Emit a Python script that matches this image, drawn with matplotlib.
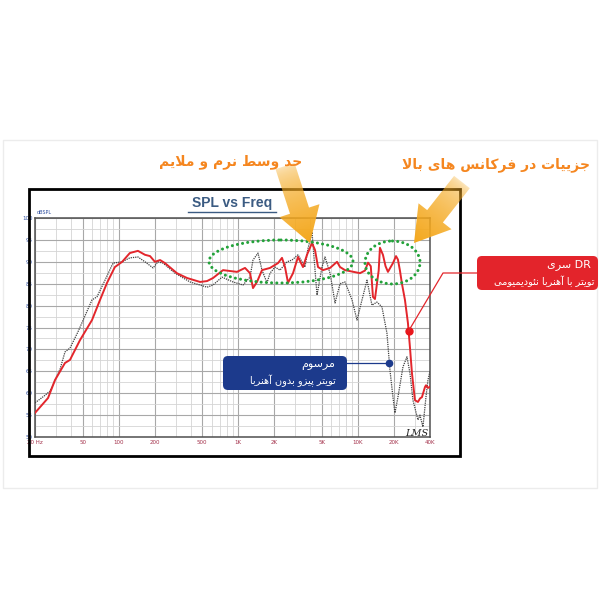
import numpy as np
import matplotlib
matplotlib.use('Agg')
import matplotlib.pyplot as plt
from matplotlib.patches import Ellipse, FancyBboxPatch, Polygon, Rectangle
from matplotlib.ticker import FixedLocator, LogLocator, MultipleLocator, NullFormatter

# --- data ---
freq_red = [20, 25.7, 29.4, 35.6, 39.2, 47.5, 59.9, 69.9, 80, 93, 107, 124, 145, 166, 183,
            201, 222, 244, 307, 373, 479, 548, 615, 745, 975, 1138, 1253, 1327, 1433, 1578,
            1841, 2147, 2318, 2457, 2603, 2866, 3155, 3473, 3751, 4130, 4376, 4636, 5103,
            5842, 6686, 7084, 7796, 10400, 11450, 12130, 12800, 13342, 13866, 14410, 14900,
            15266, 16174, 17000, 17808, 18500, 19608, 20800, 21586, 22434, 23314, 24700,
            26168, 27196, 28260, 29942, 31720, 33000, 34260, 36300, 37000, 38460, 40000]
spl_red = [55.5, 58.9, 63, 66.9, 67.6, 72.1, 76.7, 81.3, 85.2, 88.8, 90, 92, 92.5, 91.6, 91.3,
           90, 90.4, 89.7, 87.4, 86.3, 85.4, 85.6, 86.3, 88.1, 87.7, 88.6, 87.4, 84, 85.4, 88.1,
           88.6, 89.7, 90.9, 88.8, 85.2, 87.4, 91.1, 88.8, 91.6, 94.3, 92.7, 88.8, 88.1,
           88.6, 90, 88.8, 88.1, 87.4, 88.0, 89.8, 89.0, 82, 81.5, 85.0, 88,
           93.2, 91.6, 89, 87.7, 88.5, 89.7, 91.3, 90.5, 88, 85, 81.3,
           76, 70.5, 64.6, 58.4, 58, 58.8, 59.1, 61.4, 61.8, 61.2, 61.5]

freq_gray = [20, 24.2, 26.7, 29.4, 32.4, 35.6, 39.2, 45.7, 59.9, 65.9, 76.9, 89.7, 106.7, 124,
             145, 166, 194, 213, 235, 296, 395, 548, 615, 731, 903, 1095, 1253, 1327, 1461,
             1578, 1737, 1841, 2027, 2231, 2553, 2811, 3155, 3609, 3823, 4130, 4548, 5006,
             5303, 5842, 6434, 7084, 7796, 8917, 9818, 10808, 11898, 13088, 14410, 15866,
             17468, 18506, 19608, 20376, 21586, 23766, 25670, 27196, 28812, 31720, 32960,
             34920, 37000, 38460, 40000]
spl_gray = [57.8, 59.5, 60.5, 63, 65.5, 69.4, 70.3, 74, 81.3, 82, 85.8, 89.7, 90, 90.9,
            91.1, 90, 88.6, 90, 89.7, 87.4, 85.4, 84.2, 84.7, 86.5, 85.4, 84.7, 86.5, 90.4, 92,
            88.1, 85.2, 87.4, 88.8, 88.1, 90, 90.4, 91.6, 88.8, 93, 96.8, 82.4, 88.8,
            91.1, 87.4, 80.6, 85, 85.4, 81.3, 76.7, 81.3, 85.8, 80.1, 80.8, 79.7,
            73.7, 65.3, 59.1, 55.5, 59.1, 66, 68.3, 64.6, 58.4, 53.9, 55,
            52.3, 59.1, 63, 65]

x_ticks = [20, 50, 100, 200, 500, 1000, 2000, 5000, 10000, 20000, 40000]
x_labels = ['20 Hz', '50', '100', '200', '500', '1K', '2K', '5K', '10K', '20K', '40K']
y_ticks = list(range(50, 101, 5))
dot_red_f = 26500
dot_gray_f = 18300

# --- Persian shaping (matplotlib has no RTL shaping) ---
FORMS = {
    'ا': ('\uFE8D', '\uFE8E', None, None), 'آ': ('\uFE81', '\uFE82', None, None),
    'ب': ('\uFE8F', '\uFE90', '\uFE91', '\uFE92'), 'پ': ('\uFB56', '\uFB57', '\uFB58', '\uFB59'),
    'ت': ('\uFE95', '\uFE96', '\uFE97', '\uFE98'), 'ج': ('\uFE9D', '\uFE9E', '\uFE9F', '\uFEA0'),
    'ح': ('\uFEA1', '\uFEA2', '\uFEA3', '\uFEA4'), 'د': ('\uFEA9', '\uFEAA', None, None),
    'ر': ('\uFEAD', '\uFEAE', None, None), 'ز': ('\uFEAF', '\uFEB0', None, None),
    'س': ('\uFEB1', '\uFEB2', '\uFEB3', '\uFEB4'), 'ط': ('\uFEC1', '\uFEC2', '\uFEC3', '\uFEC4'),
    'ف': ('\uFED1', '\uFED2', '\uFED3', '\uFED4'), 'ک': ('\uFB8E', '\uFB8F', '\uFB90', '\uFB91'),
    'ل': ('\uFEDD', '\uFEDE', '\uFEDF', '\uFEE0'), 'م': ('\uFEE1', '\uFEE2', '\uFEE3', '\uFEE4'),
    'ن': ('\uFEE5', '\uFEE6', '\uFEE7', '\uFEE8'), 'ه': ('\uFEE9', '\uFEEA', '\uFEEB', '\uFEEC'),
    'و': ('\uFEED', '\uFEEE', None, None), 'ئ': ('\uFE89', '\uFE8A', '\uFE8B', '\uFE8C'),
    'ی': ('\uFBFC', '\uFBFD', '\uFBFE', '\uFBFF'),
}


def fa(text):
    words = []
    for word in text.split(' '):
        res = []
        i = 0
        while i < len(word):
            c = word[i]
            prev = i > 0 and word[i - 1] in FORMS and FORMS[word[i - 1]][2] is not None
            if c == 'ل' and i + 1 < len(word) and word[i + 1] == 'ا':
                res.append('\uFEFC' if prev else '\uFEFB')
                i += 2
                continue
            f = FORMS[c]
            nxt = f[2] is not None and i + 1 < len(word) and word[i + 1] in FORMS
            if prev and nxt:
                g = f[3]
            elif prev:
                g = f[1]
            elif nxt:
                g = f[2]
            else:
                g = f[0]
            res.append(g)
            i += 1
        words.append(''.join(res))
    return ' '.join(words)[::-1]


fig = plt.figure(figsize=(6, 6), dpi=100)
fig.patch.set_facecolor('white')

# main chart
ax = fig.add_axes([35 / 600, 1 - 437 / 600, 395 / 600, 219 / 600])
ax.set_xscale('log')
ax.set_xlim(20, 40000)
ax.set_ylim(50, 100)
ax.xaxis.set_major_locator(FixedLocator(x_ticks))
ax.xaxis.set_minor_locator(LogLocator(base=10, subs=np.arange(1, 10)))
ax.xaxis.set_minor_formatter(NullFormatter())
ax.set_xticklabels(x_labels)
ax.set_yticks(y_ticks)
ax.yaxis.set_minor_locator(MultipleLocator(2.5))
ax.grid(which='major', color='#a8a8a8', lw=0.8)
ax.grid(which='minor', color='#d4d4d4', lw=0.6)
ax.tick_params(which='both', length=0)
ax.tick_params(axis='x', labelsize=4, labelcolor='#a3304a', pad=2)
ax.tick_params(axis='y', labelsize=4, labelcolor='#2f4f9f', pad=1.5)
for s in ax.spines.values():
    s.set_color('#505050')
    s.set_linewidth(1.1)

ax.plot(freq_gray, spl_gray, color='#404040', lw=0.9, ls=(0, (1, 0.8)), zorder=3)
ax.plot(freq_red, spl_red, color='#e3262c', lw=1.4, zorder=4)

red_dot_y = np.interp(np.log(dot_red_f), np.log(freq_red), spl_red)
gray_dot_y = np.interp(np.log(dot_gray_f), np.log(freq_gray), spl_gray)
ax.plot([dot_red_f], [red_dot_y], 'o', color='#e8161b', ms=5, zorder=6)
ax.plot([dot_gray_f], [gray_dot_y], 'o', color='#1c3a8c', ms=4.5, zorder=6)

# overlay in pixel coordinates for annotations
ov = fig.add_axes([0, 0, 1, 1], zorder=5)
ov.set_xlim(0, 600)
ov.set_ylim(600, 0)
ov.axis('off')
ov.patch.set_alpha(0)

ov.add_patch(Rectangle((3, 140), 594, 348, fc='none', ec='#ececec', lw=1))
ov.add_patch(Rectangle((29, 189), 431, 267, fc='none', ec='black', lw=2))

ov.text(232, 203, 'SPL vs Freq', ha='center', va='center', fontsize=10, fontweight='bold',
        color='#3b5b82', family='Liberation Sans')
ov.plot([188, 276], [211.5, 211.5], color='#3b5b82', lw=1)
ov.text(37, 213, 'dBSPL', ha='left', va='center', fontsize=3.5, color='#2f4f9f')
ov.text(405, 433, 'LMS', ha='left', va='center', fontsize=7, style='italic',
        family='DejaVu Serif', color='#222222')

# dotted green ellipses
for cx, cy, w, h in [(281, 261.5, 144, 43), (392.5, 262.5, 55, 43)]:
    e = Ellipse((cx, cy), w, h, fc='none', ec='#23a23a', lw=2.2, ls=(0, (0.01, 1.7)))
    e.set_capstyle('round')
    ov.add_patch(e)


def grad_arrow(T, P, w, h, L, rgb):
    T = np.array(T, float)
    P = np.array(P, float)
    d = P - T
    ln = np.hypot(*d)
    u = d / ln
    n = np.array([-u[1], u[0]])
    B = P - u * L
    pts = [T + n * w, B + n * w, B + n * h, P, B - n * h, B - n * w, T - n * w]
    poly = Polygon(pts, closed=True, fc='none', ec='none')
    ov.add_patch(poly)
    xs = [p[0] for p in pts]
    ys = [p[1] for p in pts]
    x0, x1 = min(xs) - 1, max(xs) + 1
    y0, y1 = min(ys) - 1, max(ys) + 1
    gx, gy = np.meshgrid(np.linspace(x0, x1, 200), np.linspace(y0, y1, 200))
    t = np.clip(((gx - T[0]) * u[0] + (gy - T[1]) * u[1]) / ln, 0, 1)
    img = np.zeros((200, 200, 4))
    img[..., :3] = rgb
    img[..., 3] = 0.2 + 0.8 * t ** 0.45
    im = ov.imshow(img, extent=(x0, x1, y1, y0), origin='upper', aspect='auto',
                   interpolation='bilinear', zorder=6)
    im.set_clip_path(poly)


orange = (0.96, 0.66, 0.12)
grad_arrow((285, 166), (310, 243), 10, 21, 34, orange)
grad_arrow((462, 182), (414, 243), 10, 21, 34, orange)
ov.set_xlim(0, 600)
ov.set_ylim(600, 0)

ov.text(231, 162, fa('حد وسط نرم و ملایم'), ha='center', va='center', fontsize=10,
        fontweight='bold', color='#f5861f', family='DejaVu Sans', zorder=7)
ov.text(496, 165, fa('جزییات در فرکانس های بالا'), ha='center', va='center', fontsize=10,
        fontweight='bold', color='#f5861f', family='DejaVu Sans', zorder=7)


def to_px(x, y):
    return ov.transData.inverted().transform(ax.transData.transform((x, y)))


# red callout
rx, ry = to_px(dot_red_f, red_dot_y)
ov.plot([rx, 443, 478], [ry, 273, 273], color='#e3262c', lw=0.9, zorder=4)
ov.add_patch(FancyBboxPatch((477, 256), 121, 34, boxstyle='round,pad=0,rounding_size=5',
                            fc='#e3242b', ec='none', zorder=7))
ov.text(591, 265, fa('سری') + ' DR', ha='right', va='center', fontsize=8, color='white',
        family='DejaVu Sans', zorder=8)
ov.text(594, 281, fa('تویتر با آهنربا نئودیمیومی'), ha='right', va='center', fontsize=7,
        color='white', family='DejaVu Sans', zorder=8)

# navy callout
gx_, gy_ = to_px(dot_gray_f, gray_dot_y)
ov.plot([346, gx_], [gy_, gy_], color='#1c3a8c', lw=0.9, zorder=4)
ov.add_patch(FancyBboxPatch((223, 356), 124, 34, boxstyle='round,pad=0,rounding_size=5',
                            fc='#1c3a8c', ec='none', zorder=7))
ov.text(335, 365, fa('مرسوم'), ha='right', va='center', fontsize=8, color='white',
        family='DejaVu Sans', zorder=8)
ov.text(336, 381, fa('تویتر پیزو بدون آهنربا'), ha='right', va='center', fontsize=7,
        color='white', family='DejaVu Sans', zorder=8)

fig.savefig('out.png', dpi=100)
